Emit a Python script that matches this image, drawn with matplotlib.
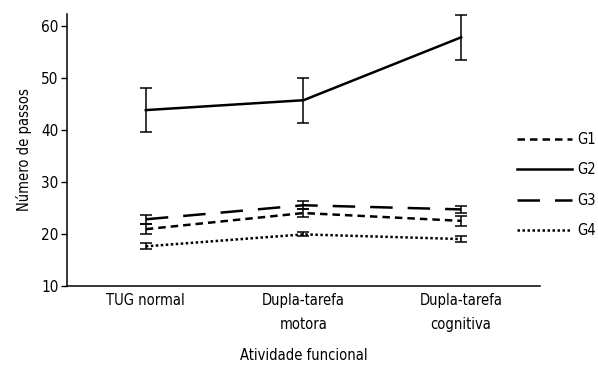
import matplotlib
matplotlib.use("Agg")
import matplotlib.pyplot as plt

plt.rcParams['font.family'] = ['DejaVu Sans']
plt.rcParams['font.stretch'] = 'condensed'

categories = ["TUG normal", "Dupla-tarefa\nmotora", "Dupla-tarefa\ncognitiva"]
groups = ["G1", "G2", "G3", "G4"]
g1 = [20.9, 24.0, 22.5]
g2 = [43.8, 45.7, 57.8]
g3 = [22.8, 25.5, 24.7]
g4 = [17.6, 19.9, 19.0]
g1_err = [0.9, 0.8, 0.9]
g2_err = [4.3, 4.3, 4.3]
g3_err = [0.9, 0.8, 0.6]
g4_err = [0.6, 0.4, 0.5]
yticks = [10, 20, 30, 40, 50, 60]

series = [g1, g2, g3, g4]
errors = [g1_err, g2_err, g3_err, g4_err]
styles = [(0, (3, 2)), '-', (0, (9, 6)), (0, (1, 1))]

fig = plt.figure(figsize=(5.98, 3.66), dpi=100)
ax = fig.add_axes([0.112, 0.219, 0.791, 0.743])

x = list(range(len(categories)))
handles = []
for name, vals, err, ls in zip(groups, series, errors, styles):
    ax.errorbar(x, vals, yerr=err, fmt='none', ecolor='black',
                elinewidth=1.1, capsize=4, capthick=1.1, zorder=2)
    h, = ax.plot(x, vals, color='black', linewidth=1.8, linestyle=ls,
                 label=name, zorder=3)
    handles.append(h)

ax.set_xlim(-0.5, 2.5)
ax.set_ylim(10, 62.3)
ax.set_yticks(yticks)
ax.set_xticks(x)
ax.set_xticklabels(categories, fontsize=10.5, linespacing=1.75)
ax.tick_params(axis='y', labelsize=11, length=4, width=1, direction='out', pad=2)
ax.tick_params(axis='x', length=0, pad=5)
for s in ['top', 'right']:
    ax.spines[s].set_visible(False)
for s in ['left', 'bottom']:
    ax.spines[s].set_linewidth(1.1)

ax.set_ylabel("Número de passos", fontsize=10.5, labelpad=7)
ax.set_xlabel("Atividade funcional", fontsize=10.5, labelpad=12)

fig.legend(handles=handles, labels=groups, loc='upper left',
           bbox_to_anchor=(0.855, 0.655), frameon=False, fontsize=10.5,
           handlelength=3.75, handletextpad=0.4, labelspacing=1.05,
           borderaxespad=0)

fig.savefig("out.png", dpi=100)
